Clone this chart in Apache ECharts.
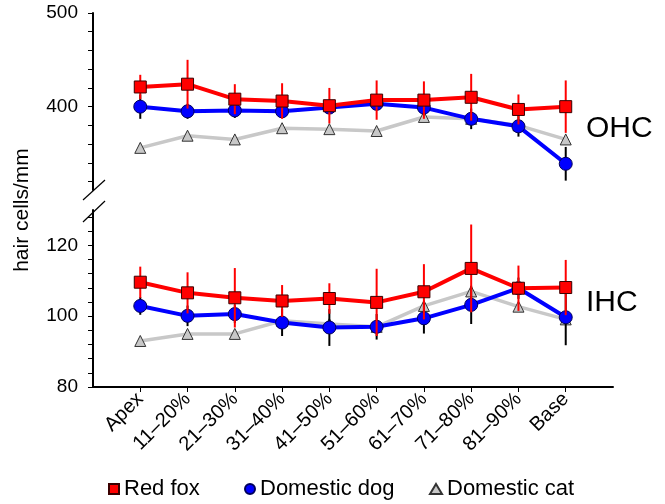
<!DOCTYPE html>
<html>
<head>
<meta charset="utf-8">
<script src="https://cdn.jsdelivr.net/npm/echarts@6/dist/echarts.min.js"></script>
<style>
  html, body { margin: 0; padding: 0; background: #fff; }
  #chart { width: 665px; height: 504px; }
</style>
</head>
<body>
<div id="chart"></div>
<script>
  // cochlear position (categories)
  const categories = ['Apex', '11–20%', '21–30%', '31–40%', '41–50%', '51–60%', '61–70%', '71–80%', '81–90%', 'Base']

  // outer hair cells (upper panel)
  const foxOHC = [421, 424, 408, 406, 401, 407, 407, 410, 397, 400]
  const foxOHCErr = [13, 26, 16, 19, 19, 21, 20, 25, 16, 28]
  const dogOHC = [400, 395, 396, 395, 399, 403, 399, 387, 379, 339]
  const dogOHCErr = [13, 8, 8, 7, 6, 6, 6, 11, 11, 18]
  const catOHC = [356, 369, 365, 377, 376, 374, 389, 387, 380, 365]

  // inner hair cells (lower panel)
  const foxIHC = [109.6, 106.6, 105.2, 104.3, 105.0, 103.9, 106.9, 113.5, 107.9, 108.1]
  const foxIHCErr = [4.4, 5.8, 8.4, 4.5, 4.3, 9.5, 7.8, 12.4, 6.4, 7.8]
  const dogIHC = [102.9, 100.1, 100.6, 98.2, 96.8, 97.0, 99.4, 103.2, 107.9, 99.7]
  const dogIHCErr = [2.5, 2.9, 2.5, 3.8, 5.2, 3.6, 4.3, 5.4, 3, 7.9]
  const catIHC = [93.0, 95.0, 95.0, 98.7, 97.8, 97.0, 102.9, 107.0, 102.7, 99.1]

  // axis ticks
  const ohcTicks = [320, 340, 360, 380, 400, 420, 440, 460, 480, 500]
  const ohcLabels = [400, 500]
  const ihcTicks = [80, 84, 88, 92, 96, 100, 104, 108, 112, 116, 120, 124, 128]
  const ihcLabels = [80, 100, 120]

  const FONT = 'Liberation Sans, Arial, sans-serif'
  const idx = categories.map((c, i) => i)
  const pts = arr => arr.map((v, i) => [i, v])
  const errPts = (arr, err) => arr.map((v, i) => [i, v, err[i]])

  const fox = { color: '#ff0000', borderColor: '#3a0000', borderWidth: 1 }
  const dog = { color: '#0000ff', borderColor: '#00005a', borderWidth: 1 }
  const cat = { color: '#c8c8c8', borderColor: '#333333', borderWidth: 1 }

  function lineSeries (name, data, grid, style, symbol, size, width, z) {
    return {
      name: name,
      type: 'line',
      xAxisIndex: grid,
      yAxisIndex: grid,
      data: pts(data),
      symbol: symbol,
      symbolSize: size,
      itemStyle: style,
      lineStyle: { color: style.color, width: width },
      z: z,
      animation: false
    }
  }

  function errSeries (name, data, err, grid, style, stroke, z) {
    return {
      name: name,
      type: 'custom',
      xAxisIndex: grid,
      yAxisIndex: grid,
      data: errPts(data, err),
      itemStyle: style,
      z: z,
      silent: true,
      animation: false,
      renderItem (params, api) {
        const x = api.value(0)
        const y = api.value(1)
        const e = api.value(2)
        const hi = api.coord([x, y + e])
        const lo = api.coord([x, y - e])
        return {
          type: 'line',
          shape: { x1: hi[0], y1: hi[1], x2: lo[0], y2: lo[1] },
          style: { stroke: stroke, lineWidth: 2 }
        }
      }
    }
  }

  const yAxisBase = {
    type: 'value',
    axisLine: { show: true, onZero: false, lineStyle: { color: '#000', width: 2 } },
    axisTick: { show: true, length: 5, lineStyle: { color: '#000', width: 1 } },
    axisLabel: { color: '#000', fontSize: 19, fontFamily: FONT, margin: 15 },
    splitLine: { show: false }
  }

  const legendBase = {
    top: 473,
    itemWidth: 10,
    itemHeight: 10,
    textStyle: { fontSize: 22, color: '#000', fontFamily: FONT }
  }

  const chart = echarts.init(document.getElementById('chart'))
  chart.setOption({
    backgroundColor: '#fff',
    textStyle: { fontFamily: FONT },
    grid: [
      { left: 93, right: 52, top: 13, height: 177 },
      { left: 93, right: 52, top: 210, height: 177 }
    ],
    xAxis: [
      { type: 'value', gridIndex: 0, min: -1, max: 10, show: false },
      {
        type: 'value',
        gridIndex: 1,
        min: -1,
        max: 10,
        axisLine: { show: true, onZero: false, lineStyle: { color: '#000', width: 2 } },
        axisTick: { show: true, length: 5, customValues: idx, lineStyle: { color: '#000', width: 1 } },
        axisLabel: {
          customValues: idx,
          rotate: 45,
          color: '#000',
          fontSize: 20,
          fontFamily: FONT,
          margin: 9,
          formatter: v => categories[v]
        },
        splitLine: { show: false }
      }
    ],
    yAxis: [
      Object.assign({}, yAxisBase, {
        gridIndex: 0,
        min: 311,
        max: 500,
        axisTick: Object.assign({}, yAxisBase.axisTick, { customValues: ohcTicks }),
        axisLabel: Object.assign({}, yAxisBase.axisLabel, { customValues: ohcLabels })
      }),
      Object.assign({}, yAxisBase, {
        gridIndex: 1,
        min: 80,
        max: 130,
        axisTick: Object.assign({}, yAxisBase.axisTick, { customValues: ihcTicks }),
        axisLabel: Object.assign({}, yAxisBase.axisLabel, { customValues: ihcLabels })
      })
    ],
    legend: [
      Object.assign({}, legendBase, { left: 103, data: [{ name: 'Red fox', icon: 'rect' }] }),
      Object.assign({}, legendBase, { left: 239, data: [{ name: 'Domestic dog', icon: 'circle' }] }),
      Object.assign({}, legendBase, { left: 424, itemWidth: 12, data: [{ name: 'Domestic cat', icon: 'triangle' }] })
    ],
    graphic: [
      {
        type: 'text',
        x: 22,
        y: 210,
        rotation: Math.PI / 2,
        style: { text: 'hair cells/mm', fontSize: 21, fontFamily: FONT, fill: '#000', align: 'center', verticalAlign: 'middle' }
      },
      { type: 'text', x: 586, y: 129, style: { text: 'OHC', fontSize: 30, fontFamily: FONT, fill: '#000', verticalAlign: 'middle' } },
      { type: 'text', x: 586, y: 303, style: { text: 'IHC', fontSize: 30, fontFamily: FONT, fill: '#000', verticalAlign: 'middle' } },
      { type: 'line', shape: { x1: 83, y1: 200, x2: 105, y2: 180 }, style: { stroke: '#000', lineWidth: 1.2 } },
      { type: 'line', shape: { x1: 83, y1: 222, x2: 105, y2: 201 }, style: { stroke: '#000', lineWidth: 1.2 } }
    ],
    series: [
      lineSeries('Domestic cat', catOHC, 0, cat, 'triangle', 11, 3.5, 2),
      errSeries('Domestic dog', dogOHC, dogOHCErr, 0, dog, '#000', 3),
      lineSeries('Domestic dog', dogOHC, 0, dog, 'circle', 13, 4, 4),
      errSeries('Red fox', foxOHC, foxOHCErr, 0, fox, '#ff0000', 5),
      lineSeries('Red fox', foxOHC, 0, fox, 'rect', 12, 4, 6),

      lineSeries('Domestic cat', catIHC, 1, cat, 'triangle', 11, 3.5, 2),
      errSeries('Domestic dog', dogIHC, dogIHCErr, 1, dog, '#000', 3),
      lineSeries('Domestic dog', dogIHC, 1, dog, 'circle', 13, 4, 4),
      errSeries('Red fox', foxIHC, foxIHCErr, 1, fox, '#ff0000', 5),
      lineSeries('Red fox', foxIHC, 1, fox, 'rect', 12, 4, 6)
    ]
  })
  window.addEventListener('resize', () => {
    chart.resize()
  })
</script>
</body>
</html>
